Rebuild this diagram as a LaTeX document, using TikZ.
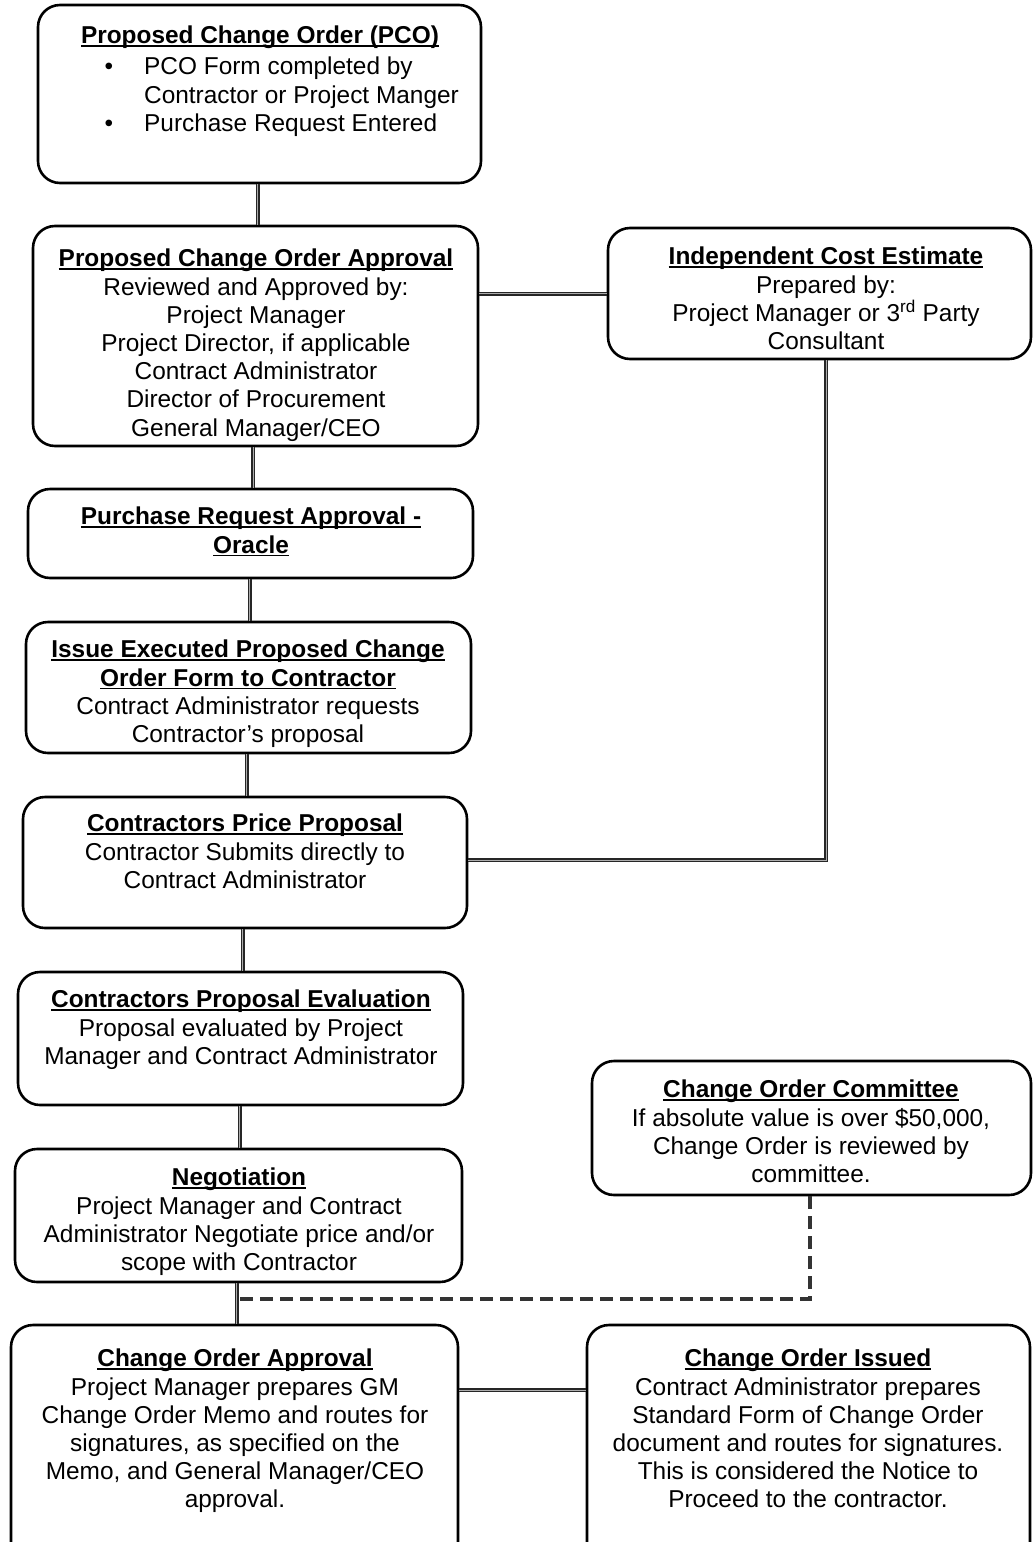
\documentclass[tikz,border=0pt]{standalone}
\usepackage{fontspec}
\setmainfont{Liberation Sans}
\usetikzlibrary{calc}
\newsavebox\ulbox
\newcommand{\ulx}[1]{\sbox\ulbox{#1}\rlap{\rule[-3pt]{\wd\ulbox}{1.5pt}}\usebox\ulbox}
\tikzset{
  box/.style={draw=black, line width=2.6pt, rounded corners=22pt, inner sep=0pt, fill=white},
  txt/.style={inner sep=0pt, align=center, anchor=north, font=\fontsize{24.4}{28.2}\selectfont},
  conn/.style={line width=1.5pt, draw=black!85, double=gray!65, double distance=1pt},
  dashconn/.style={line width=4.5pt, draw=black!80, dash pattern=on 13pt off 7pt},
}
\begin{document}
\begin{tikzpicture}[x=1pt,y=-1pt]
\clip (0,0) rectangle (1033,1542);
\fill[white] (0,0) rectangle (1033,1542);
% boxes
\node[box, minimum width=443pt, minimum height=178pt] (pco)  at (259.5,94) {};
\node[box, minimum width=445pt, minimum height=220pt] (pcoa) at (255.5,336) {};
\node[box, minimum width=423pt, minimum height=131pt] (ice)  at (819.5,293.5) {};
\node[box, minimum width=445pt, minimum height=89pt]  (pra)  at (250.5,533.5) {};
\node[box, minimum width=445pt, minimum height=131pt] (iss)  at (248.5,687.5) {};
\node[box, minimum width=444pt, minimum height=131pt] (cpp)  at (245,862.5) {};
\node[box, minimum width=445pt, minimum height=133pt] (eval) at (240.5,1038.5) {};
\node[box, minimum width=447pt, minimum height=133pt] (neg)  at (238.5,1215.5) {};
\node[box, minimum width=439pt, minimum height=134pt] (com)  at (811.5,1128) {};
\node[box, minimum width=447pt, minimum height=275pt] (coa)  at (234.5,1462.5) {};
\node[box, minimum width=443pt, minimum height=275pt] (coi)  at (808.5,1462.5) {};
% vertical connectors
\foreach \a/\b in {pco/pcoa, pcoa/pra, pra/iss, iss/cpp, cpp/eval, eval/neg}{
  \coordinate (m) at ($(\a.south)!.5!(\b.north)$);
  \draw[conn] (\a.south -| m) -- (\b.north -| m);
}
\coordinate (m2) at ($(neg.south)!.5!(coa.north)$);
\draw[conn] (neg.south -| m2) -- (coa.north -| m2);
% ICE connectors
\draw[conn] (ice.west -| pcoa.east) -- (ice.west);
\coordinate (icebend) at (826,860);
\draw[conn] (ice.south -| icebend) -- (icebend) -- (cpp.east |- icebend);
% dashed committee connector
\coordinate (dc) at (810,1299);
\coordinate (dj) at (m2 |- dc);
\draw[dashconn] (com.south -| dc) -- (dc) -- (dj);
% bottom horizontal
\coordinate (hb) at (520,1390);
\draw[conn] (coa.east |- hb) -- (coi.west |- hb);
% texts
\node[txt] (pcot) at (260,26) {\bfseries\ulx{Proposed Change Order (PCO)}};
\node[txt, anchor=north west, align=left] (pcob) at (144,57) {\llap{•\hspace{31pt}}PCO Form completed by\\Contractor or Project Manger\\\llap{•\hspace{31pt}}Purchase Request Entered};
\node[txt] (pcoat) at (256,249) {{\bfseries\ulx{Proposed Change Order Approval}}\\Reviewed and Approved by:\\Project Manager\\Project Director, if applicable\\Contract Administrator\\Director of Procurement\\General Manager/CEO};
\node[txt] (icet) at (826,247) {{\bfseries\ulx{Independent Cost Estimate}}\\Prepared by:\\Project Manager or 3\textsuperscript{rd} Party\\Consultant};
\node[txt] (prat) at (251,507) {{\bfseries\ulx{Purchase Request Approval -}}\\{\bfseries\ulx{Oracle}}};
\node[txt] (isst) at (248,640) {{\bfseries\ulx{Issue Executed Proposed Change}}\\{\bfseries\ulx{Order Form to Contractor}}\\Contract Administrator requests\\Contractor's proposal};
\node[txt] (cppt) at (245,814) {{\bfseries\ulx{Contractors Price Proposal}}\\Contractor Submits directly to\\Contract Administrator};
\node[txt] (evalt) at (241,990) {{\bfseries\ulx{Contractors Proposal Evaluation}}\\Proposal evaluated by Project\\Manager and Contract Administrator};
\node[txt] (negt) at (239,1168) {{\bfseries\ulx{Negotiation}}\\Project Manager and Contract\\Administrator Negotiate price and/or\\scope with Contractor};
\node[txt] (comt) at (811,1080) {{\bfseries\ulx{Change Order Committee}}\\If absolute value is over \$50,000,\\Change Order is reviewed by\\committee.};
\node[txt] (coat) at (235,1349) {{\bfseries\ulx{Change Order Approval}}\\Project Manager prepares GM\\Change Order Memo and routes for\\signatures, as specified on the\\Memo, and General Manager/CEO\\approval.};
\node[txt] (coit) at (808,1349) {{\bfseries\ulx{Change Order Issued}}\\Contract Administrator prepares\\Standard Form of Change Order\\document and routes for signatures.\\This is considered the Notice to\\Proceed to the contractor.};
\end{tikzpicture}
\end{document}
